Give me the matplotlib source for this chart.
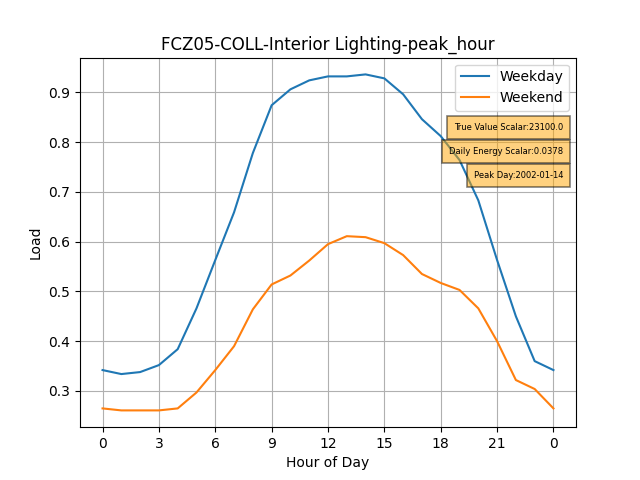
import numpy as np
import matplotlib
matplotlib.use("Agg")
import matplotlib.pyplot as plt

hours = list(range(25))
weekday = [0.342, 0.334, 0.338, 0.352, 0.384, 0.466, 0.563, 0.659, 0.778, 0.874,
           0.906, 0.924, 0.932, 0.932, 0.936, 0.928, 0.896, 0.846, 0.812, 0.764,
           0.683, 0.563, 0.450, 0.360, 0.342]
weekend = [0.265, 0.261, 0.261, 0.261, 0.265, 0.297, 0.342, 0.390, 0.464, 0.514,
           0.532, 0.562, 0.595, 0.611, 0.609, 0.597, 0.573, 0.535, 0.517, 0.503,
           0.466, 0.400, 0.322, 0.304, 0.265]
tick_pos = list(range(0, 25, 3))
tick_labels = ['0', '3', '6', '9', '12', '15', '18', '21', '0']
notes = ['True Value Scalar:23100.0', 'Daily Energy Scalar:0.0378', 'Peak Day:2002-01-14']

fig, ax = plt.subplots(figsize=(6.4, 4.8), dpi=100)
ax.plot(hours, weekday, label='Weekday')
ax.plot(hours, weekend, label='Weekend')
ax.set_xticks(tick_pos)
ax.set_xticklabels(tick_labels)
ax.set_xlabel('Hour of Day')
ax.set_ylabel('Load')
ax.set_title('FCZ05-COLL-Interior Lighting-peak_hour')
ax.grid(True)
ax.legend(loc='upper right')

# boites d'annotation
for i, txt in enumerate(notes):
    ax.text(0.974, 0.812 - i * 0.065, txt, transform=ax.transAxes, fontsize=6,
            ha='right', va='center',
            bbox=dict(boxstyle='square,pad=0.85', facecolor='orange', alpha=0.5,
                      linewidth=1.2))

plt.savefig('out.png')
